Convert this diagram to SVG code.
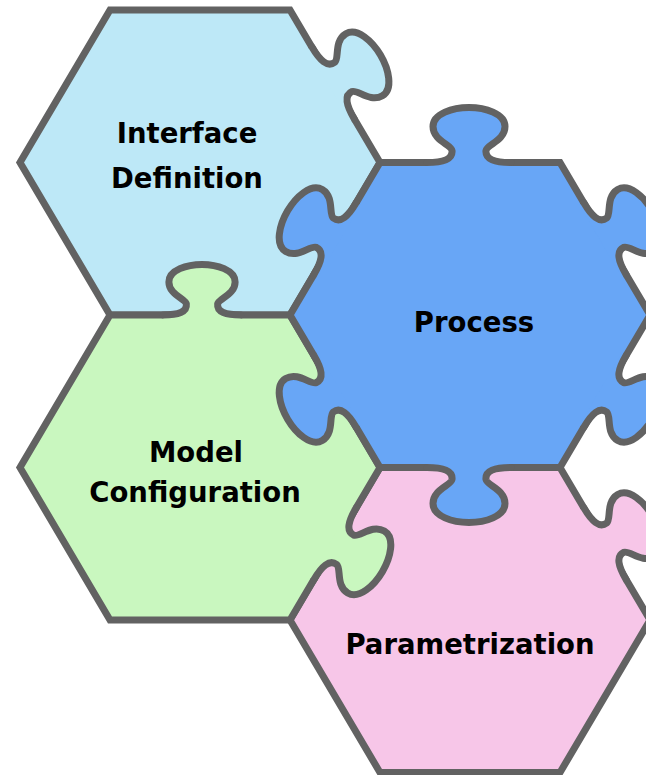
<svg xmlns="http://www.w3.org/2000/svg" width="646" height="775" viewBox="0 0 646 775">
  <style>
    .hex { stroke: #626262; stroke-width: 7; stroke-linejoin: miter; }
    .tab-line { fill: none; stroke: #626262; stroke-width: 7; stroke-linecap: round; stroke-linejoin: round; }
    .label { font-family: "DejaVu Sans", "Liberation Sans", sans-serif; font-weight: bold; font-size: 27.5px; fill: #000000; text-anchor: middle; }
    .blue-light { fill: #bde8f7; }
    .blue { fill: #68a6f6; }
    .green { fill: #c9f7bf; }
    .pink { fill: #f7c6e8; }
  </style>
  <defs>
    <!-- puzzle tab, base on the x axis, knob pointing to -y; the fill also covers the edge stroke under its base -->
    <path id="tab-fill" d="M -42 0 C -26 0 -16 -3 -17 -12 C -18 -18 -36 -22 -36 -36 C -36 -49 -16 -55 0 -55 C 16 -55 36 -49 36 -36 C 36 -22 18 -18 17 -12 C 16 -3 26 0 42 0 L 42 5 L -42 5 Z"/>
    <path id="tab-outline" d="M -42 0 C -26 0 -16 -3 -17 -12 C -18 -18 -36 -22 -36 -36 C -36 -49 -16 -55 0 -55 C 16 -55 36 -49 36 -36 C 36 -22 18 -18 17 -12 C 16 -3 26 0 42 0"/>
  </defs>

  <!-- Interface Definition -->
  <g id="interface-definition">
    <polygon class="hex blue-light" points="110,10 290,10 380,162.5 290,315 110,315 20,162.5"/>
    <g transform="translate(333.1 83) rotate(59.5)">
      <use href="#tab-fill" class="blue-light"/>
      <use href="#tab-outline" class="tab-line"/>
    </g>
    <text class="label" x="187" y="143">Interface</text>
    <text class="label" x="187" y="188">Definition</text>
  </g>

  <!-- Parametrization -->
  <g id="parametrization">
    <polygon class="hex pink" points="380,467.5 560,467.5 650,620 560,772.5 380,772.5 290,620"/>
    <g transform="translate(605 543.75) rotate(59.5)">
      <use href="#tab-fill" class="pink"/>
      <use href="#tab-outline" class="tab-line"/>
    </g>
    <text class="label" x="470" y="654">Parametrization</text>
  </g>

  <!-- Model Configuration -->
  <g id="model-configuration">
    <polygon class="hex green" points="110,315 290,315 380,467.5 290,620 110,620 20,467.5"/>
    <g transform="translate(202 315) scale(0.92)">
      <use href="#tab-fill" class="green"/>
      <use href="#tab-outline" class="tab-line" style="stroke-width:7.6"/>
    </g>
    <g transform="translate(335 543.75) rotate(120.5)">
      <use href="#tab-fill" class="green"/>
      <use href="#tab-outline" class="tab-line"/>
    </g>
    <text class="label" x="196" y="462">Model</text>
    <text class="label" x="195" y="502">Configuration</text>
  </g>

  <!-- Process -->
  <g id="process">
    <polygon class="hex blue" points="380,162.5 560,162.5 650,315 560,467.5 380,467.5 290,315"/>
    <g transform="translate(469 162.5)">
      <use href="#tab-fill" class="blue"/>
      <use href="#tab-outline" class="tab-line"/>
    </g>
    <g transform="translate(605 238.75) rotate(59.5)">
      <use href="#tab-fill" class="blue"/>
      <use href="#tab-outline" class="tab-line"/>
    </g>
    <g transform="translate(605 391.25) rotate(120.5)">
      <use href="#tab-fill" class="blue"/>
      <use href="#tab-outline" class="tab-line"/>
    </g>
    <g transform="translate(469 467.5) rotate(180)">
      <use href="#tab-fill" class="blue"/>
      <use href="#tab-outline" class="tab-line"/>
    </g>
    <g transform="translate(335 391.25) rotate(-120.5)">
      <use href="#tab-fill" class="blue"/>
      <use href="#tab-outline" class="tab-line"/>
    </g>
    <g transform="translate(335 238.75) rotate(-59.5)">
      <use href="#tab-fill" class="blue"/>
      <use href="#tab-outline" class="tab-line"/>
    </g>
    <text class="label" x="474" y="332">Process</text>
  </g>
</svg>
